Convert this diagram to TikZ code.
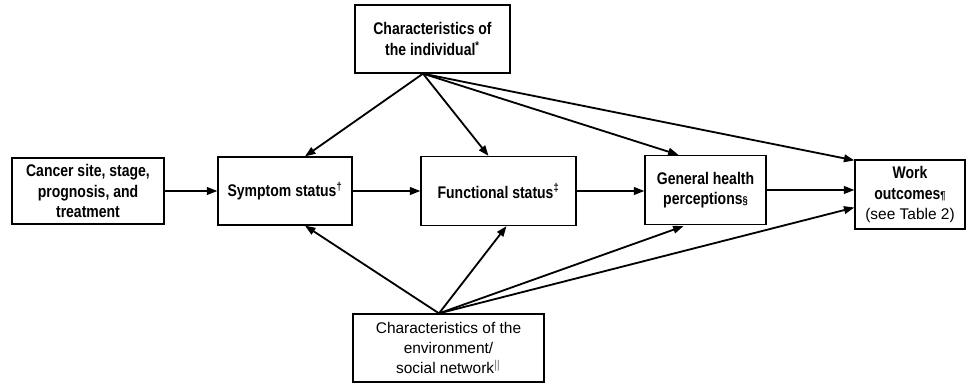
\documentclass[tikz,border=0pt]{standalone}
\usepackage{fontspec}
\setmainfont[BoldFeatures={FakeStretch=0.83}]{Liberation Sans}
\usetikzlibrary{arrows.meta}
\usetikzlibrary{calc}
\tikzset{box/.style={draw=black,line width=0.9pt,align=center,inner sep=0pt,
    font=\fontsize{12}{14.5}\selectfont\bfseries}}
\tikzset{lightbox/.style={box,font=\fontsize{11}{14.5}\selectfont}}
\tikzset{arrow/.style={-{Triangle[length=2.6mm,width=1.9mm]},line width=1.3pt}}

\begin{document}
\begin{tikzpicture}[x=0.025cm,y=-0.025cm]
        \useasboundingbox (0,0) rectangle (966,383);

        \node[box,minimum width=3.8cm,minimum height=1.65cm] (cancer) at (88,191)
            {Cancer site, stage,\\prognosis, and\\treatment};
        \node[box,minimum width=3.35cm,minimum height=1.7cm] (symptom) at (285,191)
            {Symptom status\textsuperscript{\dag}};
        \node[box,minimum width=3.875cm,minimum height=1.725cm] (functional) at (498.5,191)
            {Functional status\textsuperscript{\ddag}};
        \node[box,minimum width=3.025cm,minimum height=1.725cm] (health) at (705.5,190)
            {General health\\perceptions{\footnotesize\S}};
        \node[box,minimum width=2.75cm,minimum height=1.725cm] (work) at (910,194.5)
            {Work\\outcomes{\footnotesize\P}\\{\mdseries\fontsize{11}{14.5}\selectfont (see Table 2)}};
        \node[box,minimum width=3.875cm,minimum height=1.7cm] (indiv) at (432.5,39)
            {Characteristics of\\the individual\textsuperscript{*}};
        \node[lightbox,minimum width=4.775cm,minimum height=1.7cm] (env) at (448.5,348)
            {Characteristics of the\\environment/\\social network$^{\|}$};

        \coordinate (indivout) at ($(indiv.south)+(-9.5,0)$);
        \coordinate (envout) at ($(env.north)+(-9.5,0)$);

        % main chain
        \draw[arrow] (cancer.east) -- (cancer.east -| symptom.west);
        \draw[arrow] (symptom.east) -- (symptom.east -| functional.west);
        \draw[arrow] (functional.east) -- (functional.east -| health.west);
        \draw[arrow] (health.east) -- (health.east -| work.west);

        % individual
        \draw[arrow] (indivout) -- ($(symptom.north)+(20,0)$);
        \draw[arrow] (indivout) -- ($(functional.north)+(-10,0)$);
        \draw[arrow] (indivout) -- ($(health.north)+(-27,0)$);
        \draw[arrow] (indivout) -- ($(work.north west)+(0,1)$);

        % environment
        \draw[arrow] (envout) -- ($(symptom.south)+(20,0)$);
        \draw[arrow] (envout) -- ($(functional.south)+(8,0)$);
        \draw[arrow] (envout) -- ($(health.south)+(-22,1)$);
        \draw[arrow] (envout) -- ($(work.west)+(0,13)$);
    \end{tikzpicture}
\end{document}
